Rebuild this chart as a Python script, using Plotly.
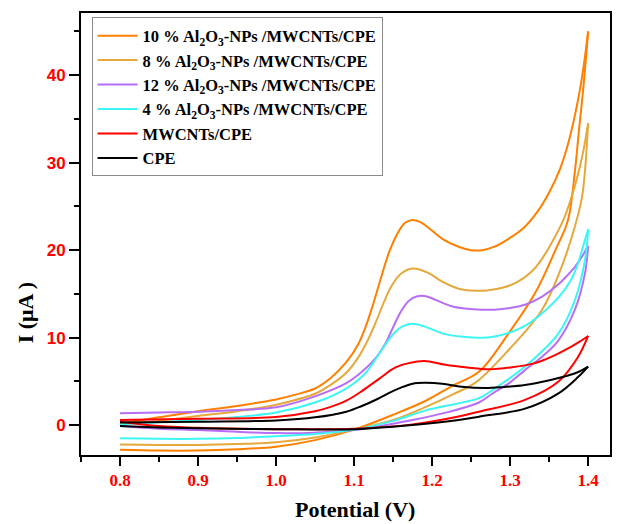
import plotly.graph_objects as go

# ---------------- data ----------------
names = ["10 % Al<sub>2</sub>O<sub>3</sub>-NPs /MWCNTs/CPE",
         "8 % Al<sub>2</sub>O<sub>3</sub>-NPs /MWCNTs/CPE",
         "12 % Al<sub>2</sub>O<sub>3</sub>-NPs /MWCNTs/CPE",
         "4 % Al<sub>2</sub>O<sub>3</sub>-NPs /MWCNTs/CPE",
         "MWCNTs/CPE",
         "CPE"]
colors = ["#FF7F00", "#E6A83A", "#B76EF7", "#3CF5F5", "#FF0000", "#000000"]

# 10 %
o_low_V = [0.8, 0.85, 0.9, 0.95, 1.0, 1.05, 1.1, 1.15, 1.192, 1.226, 1.26, 1.298, 1.332, 1.358, 1.374, 1.383, 1.388, 1.394, 1.4]
o_low_I = [-2.8, -2.9, -2.9, -2.75, -2.45, -1.7, -0.5, 1.2, 2.8, 4.5, 6.1, 10.5, 15.1, 20.0, 23.4, 29.0, 33.5, 38.7, 45.0]
o_up_V = [1.4, 1.395, 1.39, 1.383, 1.375, 1.364, 1.35, 1.335, 1.318, 1.298, 1.28, 1.264, 1.25, 1.234, 1.213, 1.195, 1.185, 1.175,
          1.165, 1.155, 1.145, 1.135, 1.125, 1.115, 1.105, 1.09, 1.07, 1.05, 1.025, 1.0, 0.95, 0.9, 0.85, 0.8]
o_up_I = [45.0, 41.5, 38.6, 35.4, 32.4, 29.3, 26.6, 24.4, 22.6, 21.3, 20.4, 20.0, 20.0, 20.4, 21.3, 22.6, 23.2, 23.45,
          23.1, 21.8, 19.8, 17.0, 14.0, 11.3, 9.2, 7.2, 5.4, 4.2, 3.5, 2.95, 2.2, 1.6, 0.9, 0.2]

# 8 %
g_low_V = [0.8, 0.85, 0.9, 0.95, 1.0, 1.05, 1.1, 1.15, 1.192, 1.226, 1.256, 1.298, 1.341, 1.366, 1.383, 1.392, 1.396, 1.4]
g_low_I = [-2.2, -2.25, -2.25, -2.15, -1.95, -1.4, -0.5, 0.6, 2.1, 3.5, 4.9, 8.6, 13.2, 18.1, 22.7, 26.0, 29.1, 34.5]
g_up_V = [1.4, 1.394, 1.386, 1.377, 1.368, 1.353, 1.34, 1.328, 1.31, 1.29, 1.27, 1.25, 1.234, 1.213, 1.195, 1.175, 1.16,
          1.148, 1.138, 1.128, 1.118, 1.105, 1.09, 1.068, 1.05, 1.0, 0.95, 0.9, 0.85, 0.8]
g_up_I = [34.5, 31.4, 28.3, 25.6, 23.4, 20.8, 18.9, 17.6, 16.4, 15.7, 15.4, 15.4, 15.6, 16.4, 17.4, 17.9, 17.3,
          15.9, 14.0, 11.8, 9.8, 7.7, 6.0, 4.5, 3.6, 2.35, 1.6, 1.06, 0.5, 0.1]

# 12 %
p_low_V = [0.8, 0.85, 0.9, 0.95, 1.0, 1.05, 1.1, 1.175, 1.22, 1.26, 1.277, 1.3, 1.319, 1.342, 1.362, 1.383, 1.396, 1.4]
p_low_I = [-0.1, -0.4, -0.55, -0.75, -0.9, -0.85, -0.55, 0.6, 1.5, 2.6, 3.6, 4.9, 6.3, 7.9, 9.7, 13.2, 17.4, 20.5]
p_up_V = [1.4, 1.393, 1.383, 1.372, 1.362, 1.341, 1.32, 1.3, 1.28, 1.264, 1.245, 1.225, 1.205, 1.192, 1.18, 1.17, 1.16,
          1.15, 1.14, 1.128, 1.11, 1.09, 1.05, 1.0, 0.95, 0.9, 0.85, 0.8]
p_up_I = [20.5, 19.4, 18.1, 17.0, 16.1, 14.7, 13.8, 13.4, 13.2, 13.2, 13.3, 13.6, 14.3, 14.75, 14.7, 14.2, 13.0,
          11.2, 9.3, 7.7, 6.1, 4.8, 3.3, 2.05, 1.75, 1.55, 1.45, 1.37]

# 4 %
c_low_V = [0.8, 0.85, 0.9, 0.95, 1.0, 1.05, 1.1, 1.15, 1.192, 1.26, 1.277, 1.319, 1.362, 1.383, 1.396, 1.4]
c_low_I = [-1.5, -1.55, -1.55, -1.45, -1.25, -1.0, -0.5, 0.5, 1.7, 3.1, 4.0, 6.7, 10.5, 14.3, 18.9, 22.4]
c_up_V = [1.4, 1.394, 1.387, 1.378, 1.362, 1.341, 1.32, 1.3, 1.28, 1.264, 1.24, 1.213, 1.19, 1.175, 1.162, 1.15, 1.14,
          1.128, 1.115, 1.1, 1.08, 1.05, 1.0, 0.95, 0.9, 0.85, 0.8]
c_up_I = [22.4, 20.6, 18.5, 16.6, 14.6, 12.8, 11.4, 10.6, 10.15, 10.0, 10.1, 10.5, 11.3, 11.6, 11.3, 10.4, 9.2,
          7.6, 6.0, 4.8, 3.7, 2.6, 1.45, 0.95, 0.6, 0.35, 0.1]

# MWCNTs/CPE
r_low_V = [0.8, 0.85, 0.9, 1.0, 1.1, 1.175, 1.234, 1.26, 1.319, 1.362, 1.387, 1.4]
r_low_I = [0.4, -0.1, -0.3, -0.45, -0.4, 0.1, 1.0, 1.55, 2.9, 5.0, 7.8, 10.2]
r_up_V = [1.4, 1.39, 1.379, 1.355, 1.332, 1.3, 1.273, 1.245, 1.217, 1.19, 1.17, 1.153, 1.132, 1.11, 1.09, 1.07, 1.05,
          1.0, 0.9, 0.8]
r_up_I = [10.2, 9.6, 9.0, 7.9, 7.1, 6.6, 6.4, 6.6, 6.9, 7.35, 7.1, 6.6, 5.3, 3.9, 2.8, 2.1, 1.6,
          0.95, 0.75, 0.6]

# CPE
k_low_V = [0.8, 0.85, 0.9, 1.0, 1.1, 1.175, 1.234, 1.26, 1.319, 1.362, 1.387, 1.4]
k_low_I = [-0.1, -0.25, -0.35, -0.45, -0.45, 0.03, 0.6, 0.98, 1.9, 3.65, 5.5, 6.7]
k_up_V = [1.4, 1.385, 1.362, 1.34, 1.319, 1.29, 1.268, 1.238, 1.213, 1.19, 1.175, 1.16, 1.145, 1.13, 1.11, 1.09, 1.05,
          1.0, 0.9, 0.8]
k_up_I = [6.7, 6.0, 5.4, 4.95, 4.6, 4.35, 4.25, 4.4, 4.75, 4.85, 4.75, 4.3, 3.7, 3.0, 2.2, 1.55, 0.9,
          0.55, 0.4, 0.3]

x_ticks = [0.8, 0.9, 1.0, 1.1, 1.2, 1.3, 1.4]
x_minor = [0.75, 0.85, 0.95, 1.05, 1.15, 1.25, 1.35]
y_ticks = [0, 10, 20, 30, 40]
y_minor = [5, 15, 25, 35, 45]

curves = [
    (o_low_V, o_low_I, o_up_V, o_up_I),
    (g_low_V, g_low_I, g_up_V, g_up_I),
    (p_low_V, p_low_I, p_up_V, p_up_I),
    (c_low_V, c_low_I, c_up_V, c_up_I),
    (r_low_V, r_low_I, r_up_V, r_up_I),
    (k_low_V, k_low_I, k_up_V, k_up_I),
]

fig = go.Figure()
for name, col, (lv, li, uv, ui) in zip(names, colors, curves):
    fig.add_trace(go.Scatter(x=lv, y=li, mode="lines", name=name, legendgroup=name,
                             line=dict(color=col, width=2, shape="spline", smoothing=1.0),
                             showlegend=False))
    fig.add_trace(go.Scatter(x=uv, y=ui, mode="lines", name=name, legendgroup=name,
                             line=dict(color=col, width=2, shape="spline", smoothing=1.0),
                             showlegend=True))

axis_common = dict(showline=True, linecolor="black", linewidth=2, mirror=True,
                   showgrid=False, zeroline=False, ticks="outside", tickcolor="black",
                   tickwidth=2)

fig.update_xaxes(range=[0.75, 1.428], tickvals=x_ticks, ticktext=[f"{v:.1f}" for v in x_ticks],
                 ticklen=9,
                 tickfont=dict(family="Liberation Serif", size=17, color="red", weight="bold"),
                 minor=dict(ticks="outside", ticklen=5, tickwidth=2, tickcolor="black",
                            tickvals=x_minor),
                 **axis_common)
fig.update_yaxes(range=[-3.4, 47.1], tickvals=y_ticks, ticklen=10,
                 tickfont=dict(family="Liberation Sans", size=17, color="red", weight="bold"),
                 minor=dict(ticks="outside", ticklen=5, tickwidth=2, tickcolor="black",
                            tickvals=y_minor),
                 **axis_common)

fig.update_layout(
    width=620, height=524,
    margin=dict(l=81, r=8, t=13, b=69),
    plot_bgcolor="white", paper_bgcolor="white",
    legend=dict(x=0.02, y=0.99, xanchor="left", yanchor="top",
                bgcolor="white", bordercolor="#8a8a8a", borderwidth=1,
                font=dict(family="Liberation Serif", size=16.5, color="black", weight="bold"),
                tracegroupgap=0, itemwidth=40),
    annotations=[
        dict(text="<b>Potential (V)</b>", xref="paper", yref="paper",
             x=(356 - 81) / 531, y=(455 - 510) / 442.3, xanchor="center", yanchor="middle",
             showarrow=False,
             font=dict(family="Liberation Serif", size=22, color="black")),
        dict(text="<b>I (μA )</b>", xref="paper", yref="paper", textangle=-90,
             x=(25 - 81) / 531, y=(455 - 313) / 442.3, xanchor="center", yanchor="middle",
             showarrow=False,
             font=dict(family="Liberation Serif", size=22, color="black")),
    ],
)

fig.write_html("out.html")
